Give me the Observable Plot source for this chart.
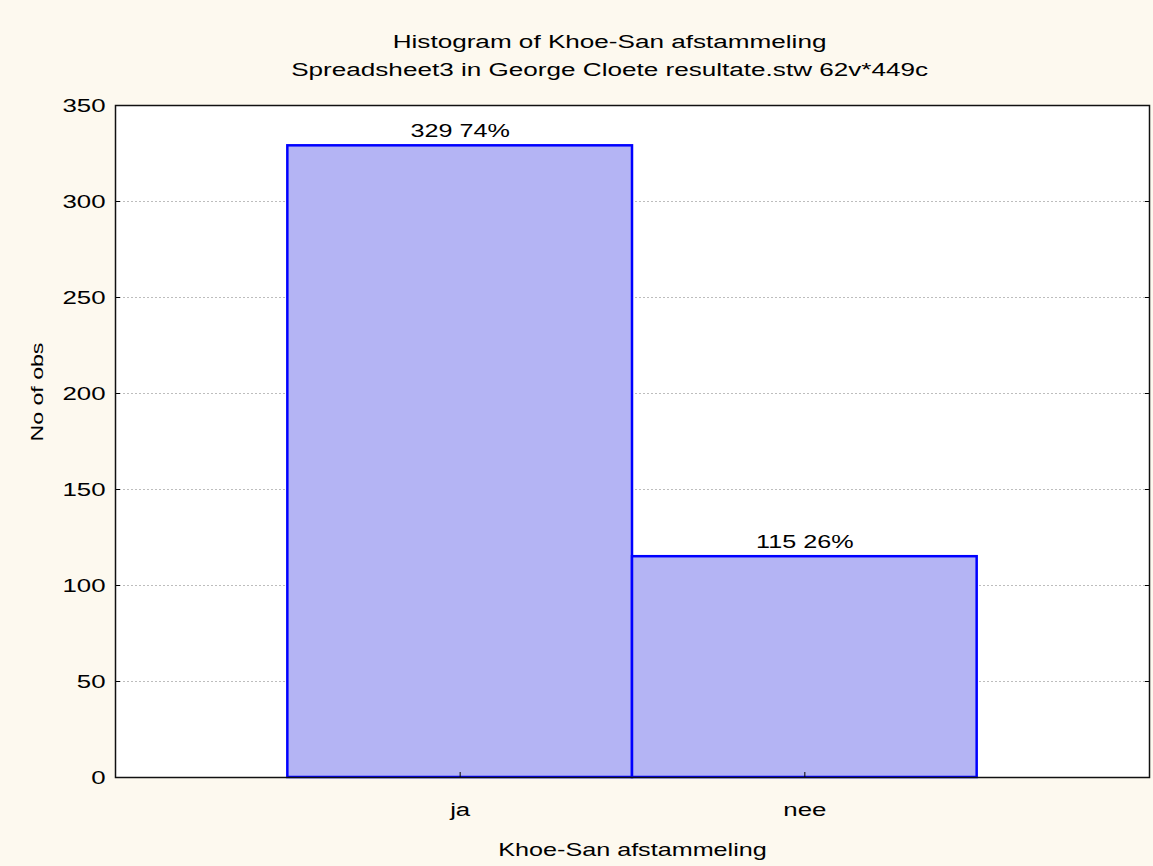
<!DOCTYPE html>
<html>
<head>
<meta charset="utf-8">
<script src="https://cdn.jsdelivr.net/npm/d3@7"></script>
<script src="https://cdn.jsdelivr.net/npm/@observablehq/plot@0.6"></script>
<style>
  html, body { margin: 0; padding: 0; background: #fdf9ef; }
  #page { position: relative; width: 1153px; height: 866px; overflow: hidden; font-family: "Liberation Sans", Arial, sans-serif; }
  .ttl { position: absolute; left: 0; width: 1220px; text-align: center; font-size: 18px; line-height: 22px; color: #000; }
  .ttl span { display: inline-block; transform: scaleX(1.45); transform-origin: center; white-space: nowrap; }
  #chart { position: absolute; left: 0; top: 90px; }
</style>
</head>
<body>
<div id="page">
  <div class="ttl" style="top:31px"><span>Histogram of Khoe-San afstammeling</span></div>
  <div class="ttl" style="top:59px"><span>Spreadsheet3 in George Cloete resultate.stw 62v*449c</span></div>
  <div id="chart"></div>
</div>
<script>
const categories = ["ja", "nee"];
const counts = [329, 115];
const percents = [74, 26];
const yTicks = [0, 50, 100, 150, 200, 250, 300, 350];
const xLabel = "Khoe-San afstammeling";
const yLabel = "No of obs";

const data = categories.map((c, i) => ({cat: c, pos: i + 1, count: counts[i], pct: percents[i]}));
const SX = 1.36;

const chart = Plot.plot({
  width: 1153,
  height: 776,
  marginTop: 15,
  marginLeft: 115,
  marginRight: 4,
  marginBottom: 89,
  style: {fontFamily: "Liberation Sans, Arial, sans-serif", fontSize: "19px", background: "transparent", color: "#000"},
  x: {type: "linear", domain: [0, categories.length + 1]},
  y: {domain: [0, 350]},
  marks: [
    Plot.frame({fill: "white", stroke: null}),
    Plot.gridY(yTicks.filter(v => v > 0 && v < 350), {stroke: "#bdbdbd", strokeOpacity: 1, strokeDasharray: "2,2", strokeWidth: 1}),
    Plot.rectY(data, {x1: d => d.pos - 0.5, x2: d => d.pos + 0.5, y: "count", fill: "#b4b4f4", stroke: "#0000ff", strokeWidth: 2.5, ariaLabel: "bars"}),
    Plot.text(data, {x: "pos", y: "count", text: d => `${d.count} ${d.pct}%`, dy: -15, fontSize: 18.5, fill: "#000", ariaLabel: "barlabels"}),
    Plot.axisY({ticks: yTicks, tickSize: -5, tickPadding: 15, fontSize: 19, label: null, tickFormat: d => String(d)}),
    Plot.axisY({anchor: "right", ticks: yTicks, tickSize: -5, tickFormat: () => "", label: null}),
    Plot.axisX({ticks: categories.map((c, i) => i + 1), tickFormat: v => categories[v - 1], tickSize: -5, tickPadding: 30, fontSize: 19, label: null}),
    Plot.text([xLabel], {frameAnchor: "bottom", dy: 78, fontSize: 18.5, fill: "#000", ariaLabel: "xlabel"}),
    Plot.text([yLabel], {frameAnchor: "left", dx: -78, rotate: -90, fontSize: 17, fill: "#000", ariaLabel: "ylabel"}),
    Plot.frame({stroke: "#111", strokeWidth: 1.5})
  ]
});

// dithered bar fill pattern
const ns = "http://www.w3.org/2000/svg";
const defs = document.createElementNS(ns, "defs");
defs.innerHTML = `<pattern id="dither" patternUnits="userSpaceOnUse" width="2" height="2" shape-rendering="crispEdges">
  <rect x="0" y="0" width="2" height="2" fill="#e4e4ff"/>
  <rect x="0" y="0" width="1" height="1" fill="#7c7cf6"/>
  <rect x="1" y="1" width="1" height="1" fill="#7c7cf6"/>
</pattern>`;
chart.insertBefore(defs, chart.firstChild);
const barG = chart.querySelector('[aria-label="bars"]');
if (barG) {
  barG.setAttribute("fill", "url(#dither)");
  barG.querySelectorAll("rect").forEach(r => r.setAttribute("fill", "url(#dither)"));
}

// horizontal stretch of horizontal texts (matches the wide lettering of the original)
chart.querySelectorAll("text").forEach(t => {
  if (t.closest('[aria-label="ylabel"]')) return;
  const tr = t.getAttribute("transform") || "";
  t.setAttribute("transform", tr + ` scale(${SX},1)`);
});

document.getElementById("chart").appendChild(chart);
</script>
</body>
</html>
